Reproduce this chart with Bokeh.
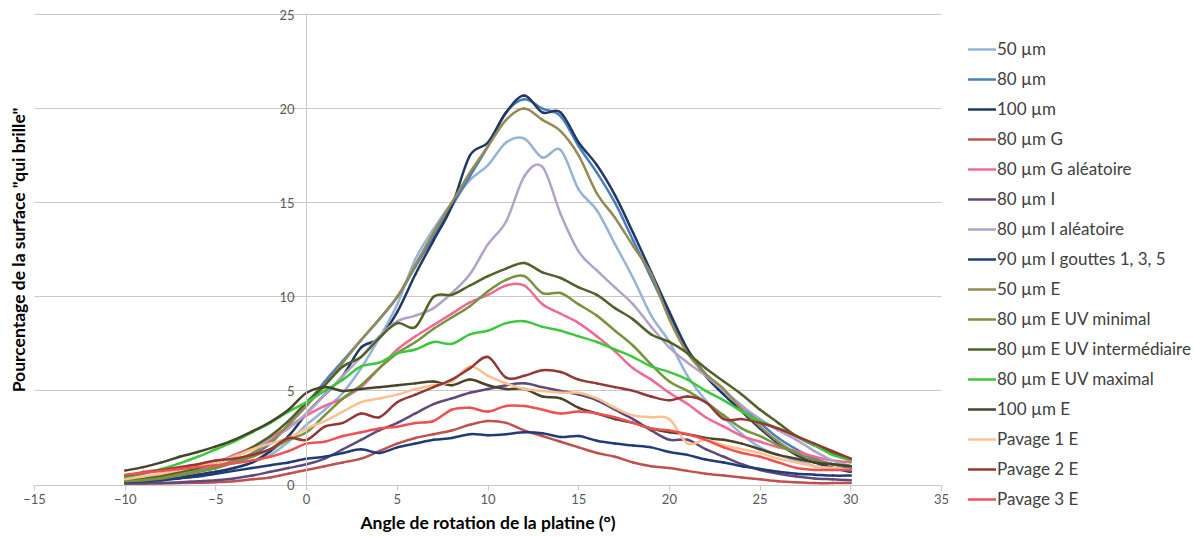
from bokeh.plotting import figure
from bokeh.models import Range1d, LinearAxis, FixedTicker, Legend, LegendItem, ColumnDataSource
from bokeh.embed import file_html
from bokeh.resources import INLINE

angles = list(range(-10, 31))

s_50 = [0.2,0.25,0.3,0.4,0.55,0.7,0.9,1.2,1.6,2.3,3.2,4.0,4.9,6.2,7.8,9.6,12.0,13.6,15.0,16.2,17.0,18.2,18.4,17.4,17.8,15.7,14.6,12.8,11.0,9.0,7.6,5.8,4.5,3.6,2.7,2.0,1.6,1.3,1.0,0.9,0.8]
s_80 = [0.25,0.3,0.4,0.5,0.7,0.9,1.2,1.6,2.2,3.2,4.3,5.5,6.6,7.7,8.8,10.0,11.6,13.2,14.8,16.4,18.0,19.8,20.5,20.0,19.6,18.0,16.6,15.0,13.0,11.0,9.0,7.2,5.9,5.0,4.2,3.3,2.5,1.9,1.4,1.1,0.9]
s_100 = [0.2,0.25,0.3,0.4,0.55,0.7,0.9,1.2,1.8,2.6,3.8,4.8,5.8,7.3,7.8,9.2,11.2,13.0,14.8,17.5,18.2,19.8,20.7,19.8,19.8,18.2,17.0,15.4,13.4,11.3,9.2,7.2,5.8,4.8,3.9,3.0,2.2,1.6,1.2,0.9,0.7]
s_80G = [0.05,0.07,0.08,0.1,0.12,0.15,0.2,0.3,0.4,0.6,0.8,1.0,1.2,1.4,1.8,2.2,2.5,2.7,2.9,3.2,3.4,3.3,2.9,2.6,2.3,2.0,1.7,1.5,1.2,1.0,0.9,0.75,0.6,0.5,0.4,0.3,0.2,0.15,0.1,0.1,0.1]
s_80Ga = [0.4,0.7,0.8,0.9,1.0,1.2,1.6,2.0,2.5,3.1,3.7,4.2,4.6,5.2,6.2,7.2,7.9,8.5,9.1,9.7,10.1,10.6,10.6,9.6,9.1,8.6,7.9,7.1,6.2,5.6,4.9,4.3,3.6,3.1,2.6,2.3,2.0,1.8,1.5,1.3,1.2]
s_80I = [0.1,0.1,0.12,0.15,0.2,0.25,0.35,0.5,0.7,0.9,1.1,1.4,1.9,2.4,2.9,3.3,3.8,4.3,4.6,4.9,5.1,5.3,5.4,5.2,5.0,4.8,4.5,4.0,3.5,2.9,2.4,2.4,1.9,1.5,1.1,0.8,0.6,0.45,0.35,0.3,0.25]
s_80Ia = [0.3,0.4,0.5,0.7,0.9,1.2,1.5,1.9,2.4,3.0,3.8,4.8,5.8,6.8,7.9,8.7,9.0,9.4,10.2,11.2,12.8,14.0,16.4,16.9,14.4,12.4,11.4,10.5,9.6,8.4,7.3,6.5,5.8,5.0,4.2,3.5,2.9,2.4,1.8,1.3,1.0]
s_90I = [0.15,0.2,0.25,0.35,0.45,0.6,0.75,0.9,1.05,1.2,1.4,1.5,1.7,1.9,1.7,2.0,2.2,2.4,2.5,2.7,2.65,2.7,2.8,2.75,2.55,2.6,2.35,2.2,2.1,2.0,1.75,1.6,1.35,1.2,1.0,0.85,0.7,0.6,0.55,0.5,0.5]
s_50E = [0.3,0.35,0.45,0.6,0.8,1.0,1.3,1.7,2.3,3.2,4.2,5.3,6.5,7.7,8.8,10.0,11.7,13.4,15.0,16.6,18.0,19.4,20.0,19.4,18.8,17.5,15.5,14.2,12.7,11.2,8.8,7.0,5.9,5.1,4.0,3.1,2.3,1.7,1.3,1.1,1.0]
s_80Emin = [0.2,0.25,0.35,0.5,0.7,0.9,1.2,1.5,1.9,2.4,2.8,3.7,4.6,5.3,6.2,7.0,7.6,8.3,8.9,9.5,10.3,10.9,11.1,10.2,10.2,9.6,9.0,8.2,7.4,6.4,5.5,5.0,4.4,3.7,3.0,2.6,2.1,1.7,1.3,1.1,1.0]
s_80Eint = [0.3,0.4,0.5,0.7,0.9,1.2,1.5,2.0,2.6,3.4,4.4,5.3,6.3,6.8,7.8,8.6,8.4,10.0,10.1,10.6,11.1,11.5,11.8,11.3,11.0,10.5,10.1,9.4,8.8,8.0,7.6,7.0,6.2,5.5,4.8,4.0,3.3,2.6,2.1,1.7,1.4]
s_80Emax = [0.4,0.6,0.85,1.15,1.5,1.9,2.3,2.8,3.3,3.9,4.4,5.0,5.6,6.3,6.5,7.0,7.2,7.6,7.5,8.0,8.2,8.6,8.7,8.4,8.2,7.9,7.6,7.2,6.8,6.3,6.0,5.6,5.0,4.5,3.9,3.4,3.0,2.6,2.1,1.6,1.3]
s_100E = [0.77,0.95,1.2,1.5,1.75,2.05,2.4,2.85,3.35,4.0,4.9,5.2,5.0,5.1,5.2,5.3,5.4,5.5,5.3,5.6,5.3,5.1,5.1,4.7,4.6,4.1,3.8,3.5,3.3,3.0,2.8,2.7,2.5,2.4,2.2,1.9,1.6,1.4,1.2,1.1,1.0]
s_P1 = [0.3,0.45,0.6,0.8,1.0,1.2,1.5,1.9,2.2,2.5,3.0,3.4,3.9,4.4,4.6,4.8,5.1,5.3,5.5,6.3,5.8,5.4,5.1,5.0,4.9,4.9,4.6,4.1,3.7,3.6,3.5,2.2,2.4,2.1,1.9,1.7,1.4,1.2,1.0,0.9,0.8]
s_P2 = [0.5,0.65,0.8,0.95,1.1,1.3,1.4,1.6,1.9,2.5,2.4,3.1,3.3,3.8,3.6,4.4,4.8,5.2,5.6,6.2,6.8,5.7,5.8,6.1,6.0,5.6,5.4,5.2,5.0,4.7,4.5,4.7,4.4,3.5,3.5,3.3,3.0,2.6,2.2,1.8,1.4]
s_P3 = [0.55,0.65,0.75,0.85,0.95,1.05,1.15,1.3,1.5,1.8,2.2,2.3,2.6,2.8,3.0,3.1,3.3,3.4,4.0,4.1,3.9,4.2,4.2,4.0,3.8,3.9,3.8,3.6,3.3,3.0,2.9,2.7,2.4,2.0,1.7,1.5,1.2,0.9,0.8,0.8,0.8]

series_names = ["50 µm", "80 µm", "100 µm", "80 µm G", "80 µm G aléatoire", "80 µm I",
                "80 µm I aléatoire", "90 µm I gouttes 1, 3, 5", "50 µm E", "80 µm E UV minimal",
                "80 µm E UV intermédiaire", "80 µm E UV maximal", "100 µm E", "Pavage 1 E",
                "Pavage 2 E", "Pavage 3 E"]
series_values = [s_50, s_80, s_100, s_80G, s_80Ga, s_80I, s_80Ia, s_90I, s_50E, s_80Emin,
                 s_80Eint, s_80Emax, s_100E, s_P1, s_P2, s_P3]
series_colors = ["#95B3D7", "#4A7EBB", "#1F3864", "#C0504D", "#F06895", "#604A7B",
                 "#B3A2C7", "#203C78", "#948A54", "#77933C", "#4F6228", "#3CC83C",
                 "#494429", "#FAC090", "#953735", "#F05050"]

x_ticks = [-15, -10, -5, 0, 5, 10, 15, 20, 25, 30, 35]
y_ticks = [0, 5, 10, 15, 20, 25]

FONT = "Lato"
GRID = "#C8C8C8"
W, H = 1194, 535
PX_X = 18.14          # pixels per degree
PX_Y = 18.82          # pixels per percent
X_LEFT_PX = 34.0      # screen x of -15
Y_ZERO_PX = 484.5     # screen y of 0


def smooth_segments(xs, ys):
    """Bezier control points of a smoothed curve through the data points (Catmull-Rom)."""
    n = len(xs)
    out = dict(x0=[], y0=[], x1=[], y1=[], cx0=[], cy0=[], cx1=[], cy1=[])
    for i in range(n - 1):
        xm, ym = (xs[i - 1], ys[i - 1]) if i > 0 else (xs[i], ys[i])
        xp, yp = (xs[i + 2], ys[i + 2]) if i + 2 < n else (xs[i + 1], ys[i + 1])
        out["x0"].append(xs[i]); out["y0"].append(ys[i])
        out["x1"].append(xs[i + 1]); out["y1"].append(ys[i + 1])
        out["cx0"].append(xs[i] + (xs[i + 1] - xm) / 6.0)
        out["cy0"].append(ys[i] + (ys[i + 1] - ym) / 6.0)
        out["cx1"].append(xs[i + 1] - (xp - xs[i]) / 6.0)
        out["cy1"].append(ys[i + 1] - (yp - ys[i]) / 6.0)
    return out


# the frame covers the whole canvas; axes are placed at x = 0 / y = 0
x_lo = x_ticks[0] - X_LEFT_PX / PX_X
x_hi = x_lo + W / PX_X
y_hi = y_ticks[-1] + (Y_ZERO_PX - y_ticks[-1] * PX_Y) / PX_Y
y_lo = -(H - Y_ZERO_PX) / PX_Y

p = figure(width=W, height=H, x_range=Range1d(x_lo, x_hi), y_range=Range1d(y_lo, y_hi),
           output_backend="svg", toolbar_location=None,
           x_axis_location=None, y_axis_location=None,
           min_border_left=0, min_border_right=0, min_border_top=0, min_border_bottom=0)
p.outline_line_color = None
p.xgrid.visible = False
p.ygrid.ticker = FixedTicker(ticks=y_ticks)
p.ygrid.grid_line_color = GRID
p.ygrid.grid_line_width = 1
try:
    p.ygrid.cross_bounds = (x_ticks[0], x_ticks[-1])
except Exception:
    p.ygrid.visible = False
    p.segment(x0=[x_ticks[0]] * len(y_ticks), x1=[x_ticks[-1]] * len(y_ticks),
              y0=y_ticks, y1=y_ticks, line_color=GRID, line_width=1)

# x axis at y = 0
xa = LinearAxis(ticker=FixedTicker(ticks=x_ticks), fixed_location=0,
                bounds=(x_ticks[0], x_ticks[-1]),
                axis_label="Angle de rotation de la platine (°)")
xa.axis_line_color = GRID
xa.major_tick_line_color = GRID
xa.major_tick_out = 5
xa.major_tick_in = 0
xa.minor_tick_line_color = None
xa.major_label_text_font = FONT
xa.major_label_text_font_size = "13px"
xa.major_label_text_color = "#595959"
xa.major_label_standoff = 4
xa.axis_label_text_font = FONT
xa.axis_label_text_font_style = "bold"
xa.axis_label_text_font_size = "17.5px"
xa.axis_label_text_color = "#000000"
xa.axis_label_standoff = 4
p.add_layout(xa, "below")

# y axis at x = 0, its title pushed out to the left edge
ya = LinearAxis(ticker=FixedTicker(ticks=y_ticks), fixed_location=0,
                bounds=(y_ticks[0], y_ticks[-1]),
                axis_label='Pourcentage de la surface "qui brille"')
ya.axis_line_color = GRID
ya.major_tick_line_color = GRID
ya.major_tick_out = 5
ya.major_tick_in = 0
ya.minor_tick_line_color = None
ya.major_label_text_font = FONT
ya.major_label_text_font_size = "13px"
ya.major_label_text_color = "#595959"
ya.major_label_standoff = 7
ya.axis_label_text_font = FONT
ya.axis_label_text_font_style = "bold"
ya.axis_label_text_font_size = "17.5px"
ya.axis_label_text_color = "#000000"
ya.axis_label_standoff = 247
p.add_layout(ya, "left")

items = []
for name, vals, col in zip(series_names, series_values, series_colors):
    seg = ColumnDataSource(smooth_segments(angles, vals))
    r = p.bezier(x0="x0", y0="y0", x1="x1", y1="y1", cx0="cx0", cy0="cy0", cx1="cx1", cy1="cy1",
                 source=seg, line_color=col, line_width=2.5, line_cap="round")
    items.append(LegendItem(label=name, renderers=[r], index=0))

leg = Legend(items=items, location=(968, H - 509))
leg.border_line_color = None
leg.background_fill_alpha = 0
leg.padding = 0
leg.margin = 0
leg.glyph_width = 28
leg.glyph_height = 20
leg.label_height = 20
leg.spacing = 9
leg.label_standoff = 1
leg.label_text_font = FONT
leg.label_text_font_size = "17px"
leg.label_text_color = "#404040"
p.add_layout(leg, "center")

open("out.html", "w").write(file_html(p, INLINE))
